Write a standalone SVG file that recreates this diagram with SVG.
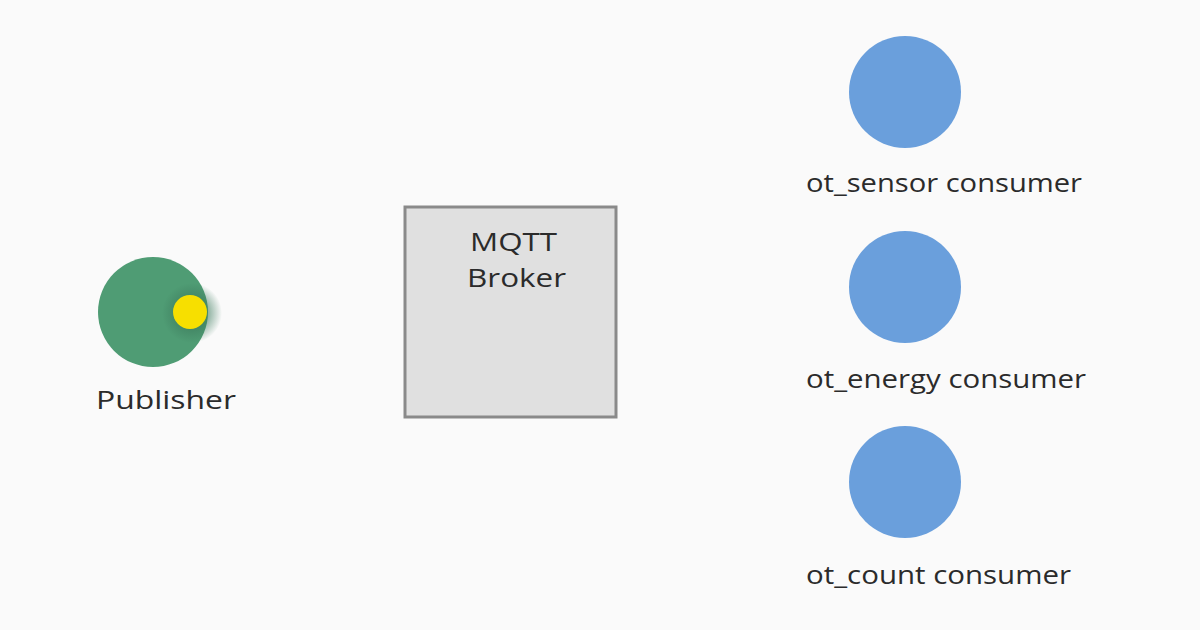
<svg xmlns="http://www.w3.org/2000/svg" width="1200" height="630" viewBox="0 0 1200 630">
<defs>
<style>
.lbl{font-family:"Open Sans","Liberation Sans",sans-serif;font-size:25.5px;fill:#2b2b2b}
.cons{fill:#6a9fdc}
</style>
<radialGradient id="sh" cx="0.5" cy="0.5" r="0.5">
<stop offset="0.5" stop-color="#3c7a5c" stop-opacity="0.6"/>
<stop offset="1" stop-color="#3c7a5c" stop-opacity="0"/>
</radialGradient>
</defs>
<rect width="1200" height="630" fill="#fafafa"/>
<g id="publisher">
<circle cx="153" cy="312" r="55" fill="#4f9c74"/>
<circle cx="192" cy="313" r="30" fill="url(#sh)"/>
<circle cx="190" cy="312" r="17" fill="#f7df00"/>
<text class="lbl" x="96" y="409" textLength="140" lengthAdjust="spacingAndGlyphs">Publisher</text>
</g>
<g id="broker">
<rect x="405" y="207" width="211" height="210" fill="#e0e0e0" stroke="#8a8a8a" stroke-width="3"/>
<text class="lbl" x="470" y="251" textLength="87" lengthAdjust="spacingAndGlyphs">MQTT</text>
<text class="lbl" x="467" y="287" textLength="99" lengthAdjust="spacingAndGlyphs">Broker</text>
</g>
<g id="sensor">
<circle class="cons" cx="905" cy="92" r="56"/>
<text class="lbl" x="806" y="192" textLength="276" lengthAdjust="spacingAndGlyphs">ot_sensor consumer</text>
</g>
<g id="energy">
<circle class="cons" cx="905" cy="287" r="56"/>
<text class="lbl" x="806" y="388" textLength="280" lengthAdjust="spacingAndGlyphs">ot_energy consumer</text>
</g>
<g id="count">
<circle class="cons" cx="905" cy="482" r="56"/>
<text class="lbl" x="806" y="584" textLength="265" lengthAdjust="spacingAndGlyphs">ot_count consumer</text>
</g>
<g id="connectors"></g>
</svg>
